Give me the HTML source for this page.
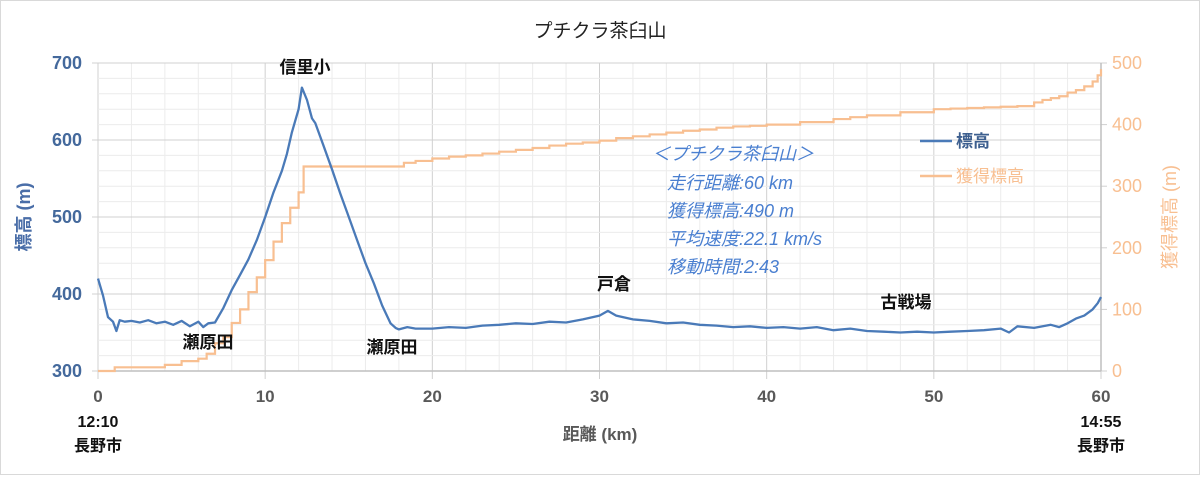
<!DOCTYPE html>
<html><head><meta charset="utf-8">
<style>
html,body{margin:0;padding:0;background:#fff;}
body{width:1200px;height:475px;overflow:hidden;font-family:"Liberation Sans","Noto Sans CJK JP",sans-serif;}
svg text{font-family:"Liberation Sans","Noto Sans CJK JP",sans-serif;}
</style></head>
<body>
<svg id="chart" width="1200" height="475" viewBox="0 0 1200 475" xmlns="http://www.w3.org/2000/svg">
<rect x="0.5" y="0.5" width="1199" height="474" fill="#fff" stroke="#d9d9d9"/>
<g id="grid"></g>
<g id="axes"></g>
<g id="series"></g>
<text x="600" y="37" text-anchor="middle" font-size="19" fill="#222">プチクラ茶臼山</text>
<text transform="translate(30,217) rotate(-90)" text-anchor="middle" font-size="18" fill="#4a6ea8" font-weight="bold">標高 (m)</text>
<text transform="translate(1176,217) rotate(-90)" text-anchor="middle" font-size="18" fill="#f8bf91">獲得標高 (m)</text>
<text x="600" y="440" text-anchor="middle" font-size="17" fill="#595959" font-weight="bold">距離 (km)</text>
<g font-size="16" font-weight="bold" fill="#111" text-anchor="middle">
<text x="98" y="427">12:10</text><text x="98" y="451">長野市</text></g>
<g font-size="16" font-weight="bold" fill="#111" text-anchor="middle">
<text x="1101" y="427">14:55</text><text x="1101" y="451">長野市</text></g>
<g font-size="17" font-weight="bold" fill="#111" text-anchor="middle">
<text x="305" y="73">信里小</text>
<text x="208" y="348">瀬原田</text>
<text x="392" y="353">瀬原田</text>
<text x="614" y="290">戸倉</text>
<text x="906" y="308">古戦場</text>
</g>
<g font-size="18" fill="#4a7fd0" font-style="italic">
<text x="652" y="160">＜プチクラ茶臼山＞</text>
<text x="667" y="189">走行距離:60 km</text>
<text x="667" y="217">獲得標高:490 m</text>
<text x="667" y="245">平均速度:22.1 km/s</text>
<text x="667" y="273">移動時間:2:43</text>
</g>
<g>
<line x1="920" y1="141" x2="952" y2="141" stroke="#4a7ab8" stroke-width="2.5"/>
<text x="956" y="147" font-size="17" fill="#3d5f8f" font-weight="bold">標高</text>
<line x1="920" y1="176" x2="952" y2="176" stroke="#f8bf91" stroke-width="2.5"/>
<text x="956" y="182" font-size="17" fill="#f8bf91">獲得標高</text>
</g>
</svg>
<script>
const elevKm = [0,0.3,0.6,0.9,1.1,1.3,1.6,2,2.5,3,3.5,4,4.5,5,5.5,6,6.3,6.6,7,7.5,8,8.5,9,9.5,10,10.5,11,11.3,11.6,12,12.2,12.5,12.8,13,13.5,14,14.5,15,15.5,16,16.5,17,17.5,17.8,18,18.5,19,20,21,22,23,24,25,26,27,28,29,30,30.5,31,32,33,34,35,36,37,38,39,40,41,42,43,44,45,46,47,48,49,50,51,52,53,54,54.5,55,56,57,57.5,58,58.5,59,59.5,59.8,60];
const elevM = [420,398,370,364,352,366,364,365,363,366,362,364,360,365,358,364,357,362,363,382,405,425,445,470,500,532,560,582,610,640,668,652,628,622,592,562,530,500,470,440,414,385,362,356,354,357,355,355,357,356,359,360,362,361,364,363,367,372,378,372,367,365,362,363,360,359,357,358,356,357,355,357,353,355,352,351,350,351,350,351,352,353,355,350,358,356,360,357,362,368,372,380,388,396,418];
const gainKm = [0,1,4,5,6,6.5,7,7.5,8,8.5,9,9.5,10,10.5,11,11.5,12,12.3,18,18.3,19,20,21,22,23,24,25,26,27,28,29,30,31,32,33,34,35,36,37,38,39,40,42,44,45,46,48,50,51,52,53,54,55,56,56.5,57,57.5,58,58.5,59,59.5,59.8,60];
const gainM = [0,6,10,16,20,28,45,55,78,100,128,152,180,210,240,265,290,332,332,338,341,345,348,350,353,356,359,362,366,369,371,374,378,381,384,387,390,392,395,397,398,400,404,409,412,415,420,425,426,427,428,429,430,436,440,443,446,452,456,462,470,480,490];
const xTicks = ["0","10","20","30","40","50","60"];
const yLeftTicks = ["300","400","500","600","700"];
const yRightTicks = ["0","100","200","300","400","500"];

const NS="http://www.w3.org/2000/svg";
const X0=98,X1=1101,YT=63,YB=371;
const xs=v=>X0+(v/60)*(X1-X0);
const yl=v=>YB-(v-300)/400*(YB-YT);
const yr=v=>YB-v/500*(YB-YT);
function mk(tag,attrs,parent){const e=document.createElementNS(NS,tag);for(const k in attrs)e.setAttribute(k,attrs[k]);parent.appendChild(e);return e;}
const grid=document.getElementById('grid'),axes=document.getElementById('axes'),series=document.getElementById('series');
for(let k=0;k<=60;k+=2){
  const major=k%10===0;
  const l=mk('line',{x1:xs(k),x2:xs(k),y1:YT,y2:YB+(major?8:0),stroke:major?'#d0d0d0':'#ececec','stroke-width':1},grid);
  
  
}
for(let m=300;m<=700;m+=20){
  const major=m%100===0;
  const l=mk('line',{x1:X0-(major?6:0),x2:X1,y1:yl(m),y2:yl(m),stroke:major?'#d0d0d0':'#ececec','stroke-width':1},grid);
  
  
}
for(let i=0;i<=5;i++){const l=mk('line',{x1:X1,x2:X1+6,y1:yr(i*100),y2:yr(i*100),stroke:'#d0d0d0'},grid);
  
  }
mk('line',{x1:X0,x2:X1,y1:YB,y2:YB,stroke:'#bfbfbf','stroke-width':1.5},axes);
mk('line',{x1:X1,x2:X1,y1:YT,y2:YB,stroke:'#bfbfbf','stroke-width':1.5},axes);
xTicks.forEach((t,i)=>{const e=mk('text',{x:xs(+t),y:402,'text-anchor':'middle','font-size':17,fill:'#595959','font-weight':'bold'},axes);e.textContent=t;
  
  });
yLeftTicks.forEach(t=>{const e=mk('text',{x:82,y:yl(+t)+6,'text-anchor':'end','font-size':18,fill:'#44699c','font-weight':'bold'},axes);e.textContent=t;
  
  });
yRightTicks.forEach(t=>{const e=mk('text',{x:1112,y:yr(+t)+6,'text-anchor':'start','font-size':18,fill:'#f8bf91'},axes);e.textContent=t;
  
  });
let d='';
gainKm.forEach((k,i)=>{ if(i===0) d+='M'+xs(k)+','+yr(gainM[i]); else d+=' H'+xs(k)+' V'+yr(gainM[i]); });
const g=mk('path',{d:d,fill:'none',stroke:'#f8bf91','stroke-width':2.2},series);


const pe=elevKm.map((k,i)=>(i?'L':'M')+xs(k).toFixed(1)+','+yl(elevM[i]).toFixed(1)).join(' ');
const e=mk('path',{d:pe,fill:'none',stroke:'#4a7ab8','stroke-width':2.3,'stroke-linejoin':'round'},series);


</script>
</body></html>
